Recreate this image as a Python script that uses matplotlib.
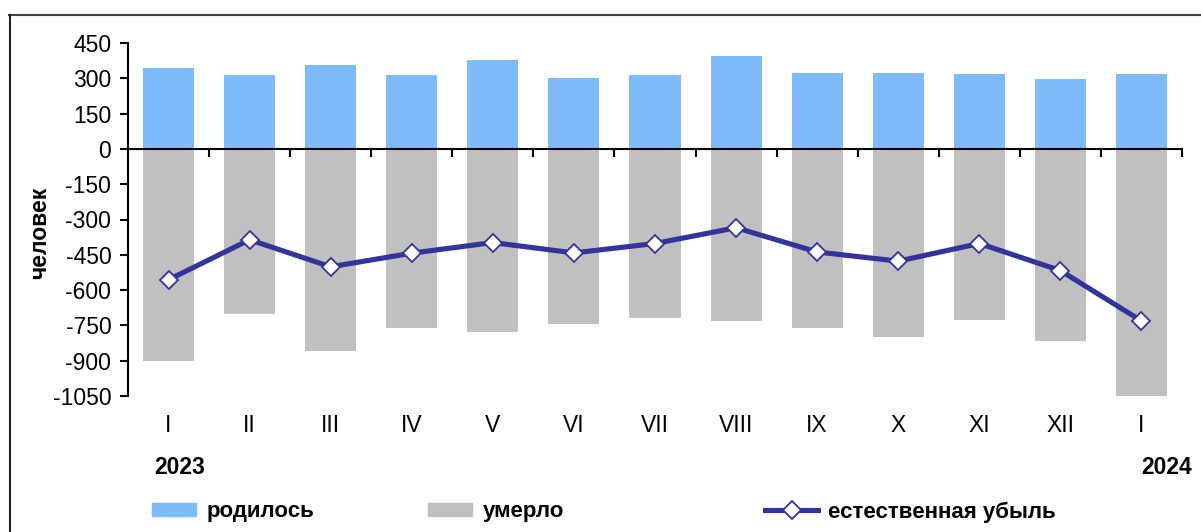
import numpy as np
import matplotlib.pyplot as plt
from matplotlib.patches import Patch
from matplotlib.lines import Line2D

plt.rcParams['font.family'] = ['Liberation Sans', 'DejaVu Sans']

# данные по месяцам (2023 I - 2024 I)
months = ['I', 'II', 'III', 'IV', 'V', 'VI', 'VII', 'VIII', 'IX', 'X', 'XI', 'XII', 'I']
born = [344, 314, 357, 314, 378, 302, 312, 394, 322, 322, 320, 296, 318]
died = [-901, -700, -858, -761, -778, -744, -720, -731, -762, -799, -725, -817, -1049]
decrease = [-556, -386, -501, -443, -398, -442, -402, -335, -438, -477, -402, -517, -731]
yticks = [450, 300, 150, 0, -150, -300, -450, -600, -750, -900, -1050]

c_born = '#7FBAFB'
c_died = '#C0C0C0'
c_line = '#333399'
fs = 16.5

fig = plt.figure(figsize=(12.01, 5.32), dpi=100)
ax = fig.add_axes([128 / 1201, 1 - 396 / 532, (1182 - 128) / 1201, (396 - 43) / 532])

x = np.arange(len(months))
ax.bar(x, born, width=0.63, color=c_born, zorder=2)
ax.bar(x, died, width=0.63, color=c_died, zorder=2)
ax.plot(x, decrease, color=c_line, lw=3.7, marker='D', markersize=9.5,
        markerfacecolor='white', markeredgecolor=c_line, markeredgewidth=1.3, zorder=4)

ax.set_xlim(-0.5, len(months) - 0.5)
ax.set_ylim(-1050, 450)
ax.set_yticks(yticks)
ax.set_yticklabels([str(v) for v in yticks], fontsize=fs)
ax.tick_params(axis='y', direction='out', length=6, width=1.5, pad=6)

# ось X проходит через ноль, засечки на границах категорий
for s in ['top', 'right']:
    ax.spines[s].set_visible(False)
ax.spines['left'].set_linewidth(1.5)
ax.spines['bottom'].set_position(('data', 0))
ax.spines['bottom'].set_linewidth(1.5)
ax.spines['bottom'].set_zorder(3)
ax.set_xticks(np.arange(len(months) + 1) - 0.5)
ax.set_xticklabels([])
ax.tick_params(axis='x', direction='out', length=6, width=1.5)

trans = ax.get_xaxis_transform()
for xi, m in zip(x, months):
    ax.text(xi, -30 / 353, m, transform=trans, ha='center', va='center', fontsize=fs)
ax.text(0.14, -72 / 353, '2023', transform=trans, ha='center', va='center',
        fontsize=fs, fontweight='bold')
ax.text(len(months) - 1 + 0.31, -72 / 353, '2024', transform=trans, ha='center', va='center',
        fontsize=fs, fontweight='bold')

fig.text(40 / 1201, 1 - 233 / 532, 'человек', rotation=90, ha='center', va='center',
         fontsize=fs, fontweight='bold')

# легенда - три отдельных элемента
items = [
    (Patch(color=c_born), 'родилось', 152, 2.0),
    (Patch(color=c_died), 'умерло', 428, 2.0),
    (Line2D([], [], color=c_line, lw=3.7, marker='D', markersize=9.5, markerfacecolor='white',
            markeredgecolor=c_line, markeredgewidth=1.3), 'естественная убыль', 765, 2.4),
]
for h, lab, px, hl in items:
    fig.legend([h], [lab], loc='center left', bbox_to_anchor=(px / 1201, 1 - 512 / 532),
               frameon=False, borderaxespad=0, borderpad=0, handlelength=hl,
               handleheight=0.55, handletextpad=0.45, prop={'size': 16, 'weight': 'bold'})

# рамка
fig.add_artist(Line2D([9 / 1201, 1], [1 - 14.5 / 532, 1 - 14.5 / 532], color='#404040', lw=1.5))
fig.add_artist(Line2D([9.5 / 1201, 9.5 / 1201], [0, 1 - 14.5 / 532], color='#202020', lw=1.5))

fig.savefig('out.png', dpi=100)
